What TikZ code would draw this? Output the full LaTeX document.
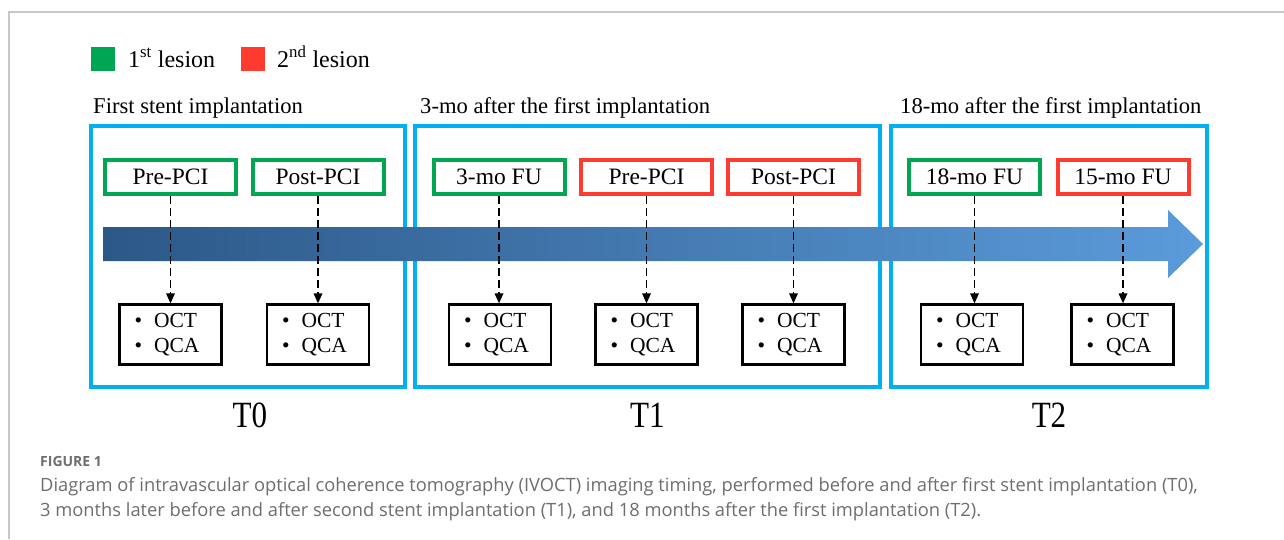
\documentclass[tikz,border=0pt]{standalone}
\usepackage{fontspec}
\setmainfont{Liberation Serif}
\newfontfamily\tfont[FakeStretch=0.84]{Liberation Serif}
\newfontfamily\capfont{Open Sans}
\usetikzlibrary{arrows.meta}
\definecolor{lgreen}{HTML}{00A651}
\definecolor{lred}{HTML}{FF3B30}
\definecolor{fblue}{HTML}{00B0F0}
\definecolor{adark}{HTML}{2C5887}
\definecolor{alight}{HTML}{5B9BDA}
\definecolor{capgray}{HTML}{6E6E6E}
\definecolor{framegray}{HTML}{C8C8C8}
\begin{document}
\begin{tikzpicture}[x=1pt,y=-1pt,
  phase/.style={draw=fblue,line width=4pt},
  greenbox/.style={draw=lgreen,line width=4pt,minimum width=131pt,minimum height=34pt,inner sep=0pt,font=\fontsize{23.5}{27}\selectfont},
  redbox/.style={greenbox,draw=lred},
  octbox/.style={draw=black,line width=2.2pt,minimum width=102pt,minimum height=60pt,text width=72pt,align=left,inner sep=0pt,font=\fontsize{21.5}{25}\selectfont},
  conn/.style={draw=black,line width=1.7pt,dash pattern=on 7.5pt off 4.5pt,-{Triangle[length=10pt,width=8.5pt]}},
  title/.style={anchor=base west,inner sep=0pt,font=\fontsize{22.6}{26}\selectfont},
  tlabel/.style={anchor=base,inner sep=0pt,font=\tfont\fontsize{37}{40}\selectfont},
  legtext/.style={anchor=base west,inner sep=0pt,font=\fontsize{24}{28}\selectfont},
  legsq/.style={minimum size=24pt,inner sep=0pt},
  capline/.style={anchor=base west,inner sep=0pt,font=\capfont\fontsize{18.3}{22}\selectfont,text=capgray}]
\useasboundingbox (0,0) rectangle (1284,539);
\fill[white] (0,0) rectangle (1284,539);
\draw[framegray,line width=1.5pt] (1284,12) -- (9,12) -- (9,539);

% legend
\node[legsq,fill=lgreen] (lg) at (103,58.5) {};
\node[legtext] (lgt) at (128,67) {1\textsuperscript{st} lesion};
\node[legsq,fill=lred] (lr) at (253,58.5) {};
\node[legtext] (lrt) at (277,67) {2\textsuperscript{nd} lesion};

% phase titles
\node[title] (t0t) at (93,113) {First stent implantation};
\node[title] (t1t) at (420,113) {3-mo after the first implantation};
\node[title] (t2t) at (900,113) {18-mo after the first implantation};

% phase frames
\draw[phase] (91,126) rectangle (405,387);
\draw[phase] (415,126) rectangle (880,387);
\draw[phase] (891,126) rectangle (1207,387);

% timeline arrow
\shade[left color=adark,right color=alight] (103,227) -- (1168,227) -- (1168,210) -- (1203,244) -- (1168,278) -- (1168,261) -- (103,261) -- cycle;

% top boxes
\node[greenbox] (p1) at (170.5,177) {Pre-PCI};
\node[greenbox] (p2) at (318,177) {Post-PCI};
\node[greenbox] (p3) at (499,177) {3-mo FU};
\node[redbox] (p4) at (646.5,177) {Pre-PCI};
\node[redbox] (p5) at (793.5,177) {Post-PCI};
\node[greenbox] (p6) at (974.5,177) {18-mo FU};
\node[redbox] (p7) at (1123,177) {15-mo FU};

% imaging boxes
\foreach \n/\x in {1/170.5,2/318,3/500,4/646.5,5/793.5,6/972,7/1122.5}{
  \node[octbox] (o\n) at (\x,334.5) {\textbullet\hspace{12pt}OCT\\\textbullet\hspace{12pt}QCA};
}
\foreach \n in {1,...,7}{
  \draw[conn] (p\n.south) -- (p\n.south |- o\n.north);
}

% phase labels
\node[tlabel] (T0) at (250,427) {T0};
\node[tlabel] (T1) at (647.5,427) {T1};
\node[tlabel] (T2) at (1049,427) {T2};

% caption
\node[anchor=base west,inner sep=0pt,font=\capfont\bfseries\fontsize{14}{17}\selectfont,text=capgray] (fig) at (40,466) {FIGURE 1};
\node[capline] (cap1) at (40,491) {Diagram of intravascular optical coherence tomography (IVOCT) imaging timing, performed before and after first stent implantation (T0),};
\node[capline] (cap2) at (40,516) {3 months later before and after second stent implantation (T1), and 18 months after the first implantation (T2).};
\end{tikzpicture}
\end{document}
